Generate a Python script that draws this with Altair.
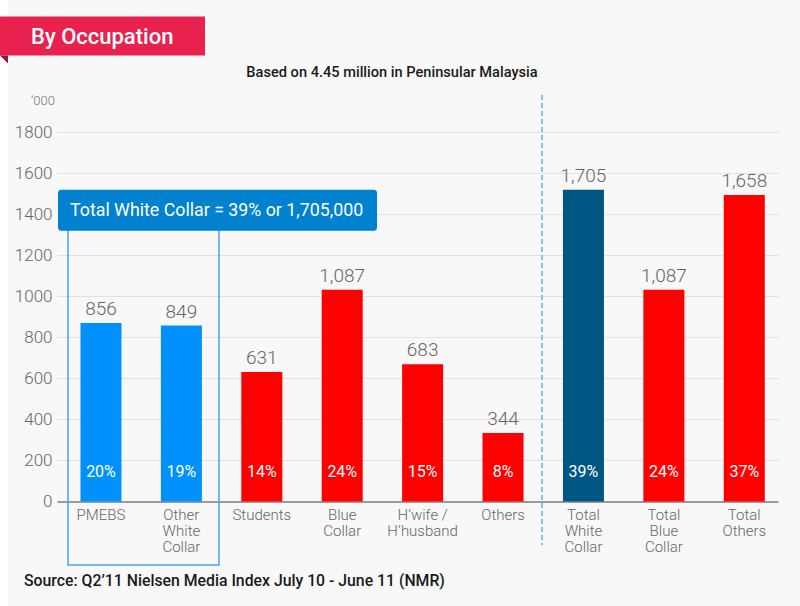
import altair as alt
import pandas as pd

# ---- data ----
categories = ["PMEBS", "Other|White|Collar", "Students", "Blue|Collar", "H’wife /|H’husband",
              "Others", "Total|White|Collar", "Total|Blue|Collar", "Total|Others"]
bar_heights = [869, 857, 631, 1031, 669, 334, 1519, 1031, 1493]   # drawn bar heights ('000)
value_labels = [856, 849, 631, 1087, 683, 344, 1705, 1087, 1658]   # printed values ('000)
percents = [20, 19, 14, 24, 15, 8, 39, 24, 37]
groups = ["white", "white", "other", "other", "other", "other", "total_white", "other", "other"]
y_ticks = [0, 200, 400, 600, 800, 1000, 1200, 1400, 1600, 1800]

df = pd.DataFrame({
    "cat": categories,
    "height": bar_heights,
    "label": value_labels,
    "pct": [f"{p}%" for p in percents],
    "group": groups,
})

FONT = "Roboto"
one = pd.DataFrame({"k": [0]})

x_enc = alt.X("cat:N", sort=categories,
              scale=alt.Scale(paddingInner=0.49, paddingOuter=0.228, align=0.64),
              axis=alt.Axis(title=None, labelAngle=0, labelExpr="split(datum.label, '|')",
                            labelBaseline="top", labelPadding=6, labelFontSize=15,
                            labelLineHeight=16, labelColor="#666666", labelFont=FONT,
                            labelFontWeight=300, ticks=False, domain=True,
                            domainColor="#9a9a9a", domainWidth=2, grid=False))
y_scale = alt.Scale(domain=[0, 1800], nice=False, zero=True)

bars = alt.Chart(df).mark_bar().encode(
    x=x_enc,
    y=alt.Y("height:Q", scale=y_scale,
            axis=alt.Axis(values=y_ticks, format="d", title=None, grid=True,
                          gridColor="#e2e2e2", gridWidth=1.2, domain=False, ticks=False,
                          labelPadding=5, labelFontSize=17, labelColor="#666666",
                          labelFont=FONT, labelFontWeight=300)),
    color=alt.Color("group:N", legend=None,
                    scale=alt.Scale(domain=["white", "other", "total_white"],
                                    range=["#0091ff", "#ff0000", "#005783"])),
)

vals = alt.Chart(df).mark_text(baseline="bottom", dy=-4, fontSize=19, font=FONT,
                               fontWeight=300, color="#666666").encode(
    x=alt.X("cat:N", sort=categories),
    y=alt.Y("height:Q", scale=y_scale),
    text=alt.Text("label:Q", format=","),
)

pcts = alt.Chart(df).mark_text(baseline="middle", fontSize=16, font=FONT,
                               fontWeight=400, color="white").encode(
    x=alt.X("cat:N", sort=categories),
    y=alt.datum(145),
    text="pct:N",
)

# left white strip
strip = alt.Chart(one).mark_rect(color="white").encode(
    x=alt.value(-57), x2=alt.value(-49), y=alt.value(-133), y2=alt.value(475))

# title banner
banner = alt.Chart(one).mark_rect(color="#e8214f").encode(
    x=alt.value(-57), x2=alt.value(148), y=alt.value(-115.5), y2=alt.value(-76.5))
fold = alt.Chart(one).mark_point(shape="M-1,-1 L1,-1 L1,1 Z", filled=True, size=64,
                                 color="#9e1234", opacity=1).encode(
    x=alt.value(-53), y=alt.value(-72.5))
banner_txt = alt.Chart(one).mark_text(text="By Occupation", align="left", baseline="middle",
                                      fontSize=22, font=FONT, fontWeight=500,
                                      color="white").encode(
    x=alt.value(-26), y=alt.value(-95.5))

subtitle = alt.Chart(one).mark_text(text="Based on 4.45 million in Peninsular Malaysia",
                                    align="center", baseline="middle", fontSize=14.6,
                                    font=FONT, fontWeight=500, color="#1a1a1a").encode(
    x=alt.value(335), y=alt.value(-59))

unit = alt.Chart(one).mark_text(text="‘000", align="right", baseline="middle",
                                fontSize=13, font=FONT, fontWeight=300,
                                color="#777777").encode(
    x=alt.value(-2), y=alt.value(-31))

# white-collar outline box
outline = alt.Chart(one).mark_rect(fill=None, stroke="#4aa3ee", strokeWidth=1.5).encode(
    x=alt.value(11), x2=alt.value(162), y=alt.value(95), y2=alt.value(433))
callout = alt.Chart(one).mark_rect(color="#0082d0", cornerRadius=3).encode(
    x=alt.value(1), x2=alt.value(320), y=alt.value(57.7), y2=alt.value(98.7))
callout_txt = alt.Chart(one).mark_text(text="Total White Collar = 39% or 1,705,000",
                                       align="left", baseline="middle", fontSize=17.8,
                                       font=FONT, fontWeight=400, color="white").encode(
    x=alt.value(13), y=alt.value(78.5))

# dashed divider
divider = alt.Chart(one).mark_rule(color="#7cc6f7", strokeWidth=2, strokeDash=[5, 3]).encode(
    x=alt.value(485), y=alt.value(-37), y2=alt.value(413))

source = alt.Chart(one).mark_text(text="Source: Q2’11 Nielsen Media Index July 10 - June 11 (NMR)",
                                  align="left", baseline="middle", fontSize=15.8, font=FONT,
                                  fontWeight=500, color="#1a1a1a").encode(
    x=alt.value(-33), y=alt.value(448.5))

chart = alt.layer(
    strip, outline, bars, vals, pcts, callout, callout_txt, divider,
    banner, fold, banner_txt, subtitle, unit, source,
).properties(
    width=721, height=369.5,
    autosize=alt.AutoSizeParams(type="none"),
    padding={"left": 57, "top": 132, "right": 22, "bottom": 104.5},
    background="#f8f8f8",
).configure_view(stroke=None)

chart.save("out.html", embed_options={"renderer": "svg", "actions": False})
